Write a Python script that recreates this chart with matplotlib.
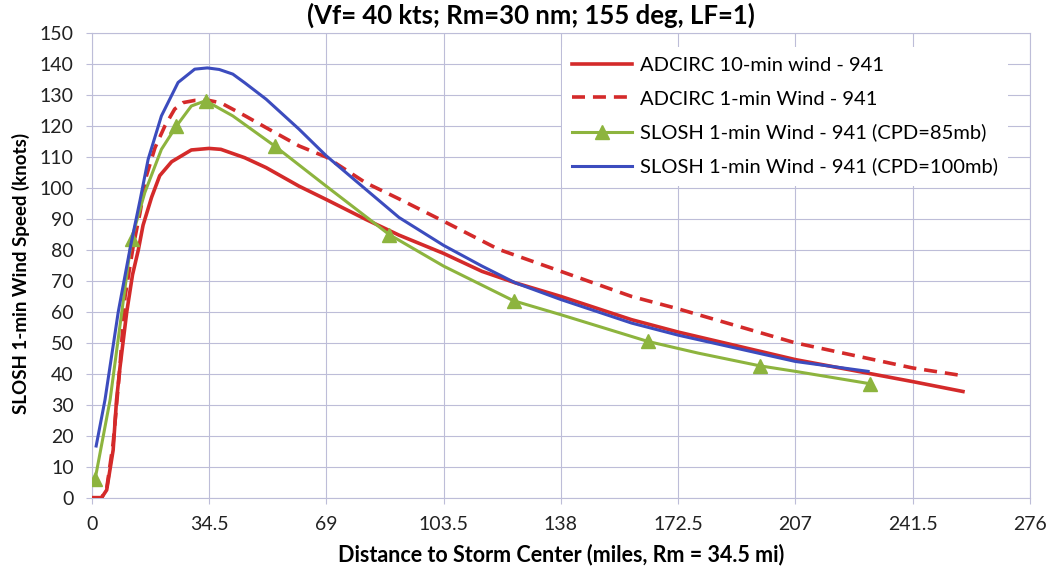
""" SLOSH vs ADCIRC wind profile comparison. """

import numpy as np
from matplotlib import pyplot as plt

# ADCIRC 10-min wind
adc10_x = [0, 2.9, 4.4, 6.3, 7.3, 8.3, 10.3, 12, 13.7, 15.1, 17.6, 20, 23.5, 29.3, 34.5,
           38, 45, 51.3, 61, 69, 80.6, 90.4, 103.5, 114.8, 124.6, 138, 158.8, 172.5, 207,
           241.5, 256.3]
adc10_y = [0, 0, 2.5, 15.4, 31.6, 42, 60, 72, 80, 88, 97, 104, 108.5, 112.3, 112.8,
           112.5, 109.8, 106.6, 100.6, 96.3, 89.9, 84.8, 78.9, 73.1, 69.4, 65, 57.5, 53.5,
           44.6, 37.5, 34.3]

# ADCIRC 1-min wind
adc1_x = [0, 2.9, 4.4, 6.3, 8.3, 9.8, 12.2, 14.2, 16.1, 18.6, 21.5, 24.4, 26.9, 30.3,
          34.5, 38, 45, 51.3, 61, 69, 80.6, 90.4, 103.5, 119.7, 138, 158.8, 172.5, 207,
          241.5, 256.3]
adc1_y = [0, 0, 3, 17.5, 42.4, 65, 81.2, 92, 104, 113, 120, 125.5, 127.6, 128.3,
          128.3, 127.5, 123.4, 119.5, 113.6, 110, 101.7, 96.5, 89.3, 80.2, 73.1, 65, 61,
          50, 41.9, 39.4]

# SLOSH 1-min wind, CPD=85mb (triangles at the data points in slosh85_mark)
slosh85_x = [1, 5.4, 11.7, 15.6, 20.5, 24.9, 29.3, 33.5, 41.5, 53.8, 69, 87.5, 103.5,
             124.1, 138, 163.5, 178.4, 196.5, 207, 229]
slosh85_y = [6, 31.6, 83.5, 98.5, 112.5, 120, 126.5, 128.2, 123.3, 113.6, 100.6, 85,
             74.8, 63.6, 59.1, 50.5, 46.7, 42.6, 40.8, 36.8]
slosh85_mark = [0, 2, 5, 7, 9, 11, 13, 15, 17, 19]

# SLOSH 1-min wind, CPD=100mb
slosh100_x = [1.3, 3.9, 7.8, 11.2, 12.5, 14.2, 16.6, 20.5, 25.4, 30.3, 34, 37.5, 41.5,
              45, 51.3, 56, 61, 69, 80.6, 90.4, 103.5, 114.8, 124.6, 138, 158.8, 172.5,
              207, 228.4]
slosh100_y = [16.7, 31.6, 60, 80, 87, 96, 109.3, 123.3, 134.1, 138.4, 138.8, 138.3,
              136.8, 134, 128.7, 124, 119, 110.4, 99.6, 90.5, 81.5, 74.8, 69.4, 64, 56.4,
              52.5, 44, 40.8]

labels = ['ADCIRC 10-min wind - 941', 'ADCIRC 1-min Wind - 941',
          'SLOSH 1-min Wind - 941 (CPD=85mb)', 'SLOSH 1-min Wind - 941 (CPD=100mb)']
x_ticks = np.arange(0, 276.1, 34.5)
y_ticks = np.arange(0, 151, 10)

plt.rcParams['font.family'] = ['Lato', 'DejaVu Sans']

red = '#D42A2A'
green = '#8DB43E'
blue = '#3C4CBE'
gridc = '#BDBDD8'

fig = plt.figure(figsize=(10.52, 5.73), dpi=100)
ax = fig.add_axes([0.0872, 0.1314, 0.8918, 0.8106])

ax.plot(adc10_x, adc10_y, color=red, lw=2.6, label=labels[0], zorder=3)
ax.plot(adc1_x, adc1_y, color=red, lw=2.6, dashes=(3.6, 2.2), label=labels[1], zorder=3)
ax.plot(slosh85_x, slosh85_y, color=green, lw=2.2, marker='^', markersize=10,
        markevery=slosh85_mark, label=labels[2], zorder=4)
ax.plot(slosh100_x, slosh100_y, color=blue, lw=2.2, label=labels[3], zorder=4)

# Axes
ax.set_xlim(0, 276)
ax.set_ylim(0, 150)
ax.set_xticks(x_ticks)
ax.set_xticklabels(['%g' % t for t in x_ticks])
ax.set_yticks(y_ticks)
ax.tick_params(axis='both', labelsize=14, color=gridc, length=4, width=0.8,
               labelcolor='#222222')
ax.tick_params(axis='x', pad=9)
ax.tick_params(axis='y', pad=9)
ax.grid(True, color=gridc, lw=0.8)
ax.set_axisbelow(True)
for sp in ax.spines.values():
    sp.set_color(gridc)
    sp.set_linewidth(0.8)

ax.set_xlabel('Distance to Storm Center (miles, Rm = 34.5 mi)', fontsize=15.5,
              fontweight='bold', labelpad=8)
ax.set_ylabel('SLOSH 1-min Wind Speed (knots)', fontsize=13.5, fontweight='bold')
ax.yaxis.set_label_coords(-0.066, 0.4835)
fig.text(0.505, 0.974, '(Vf= 40 kts; Rm=30 nm; 155 deg, LF=1)', fontsize=18.5,
         fontweight='bold', ha='center', va='center')

leg = ax.legend(loc='upper left', bbox_to_anchor=(0.501, 0.97), fontsize=14.5,
                frameon=True, fancybox=False, framealpha=1, edgecolor='none',
                handlelength=3.0, handletextpad=0.4, labelspacing=0.8,
                borderpad=0.5, borderaxespad=0)
leg.set_zorder(10)

fig.savefig('out.png', dpi=100)
